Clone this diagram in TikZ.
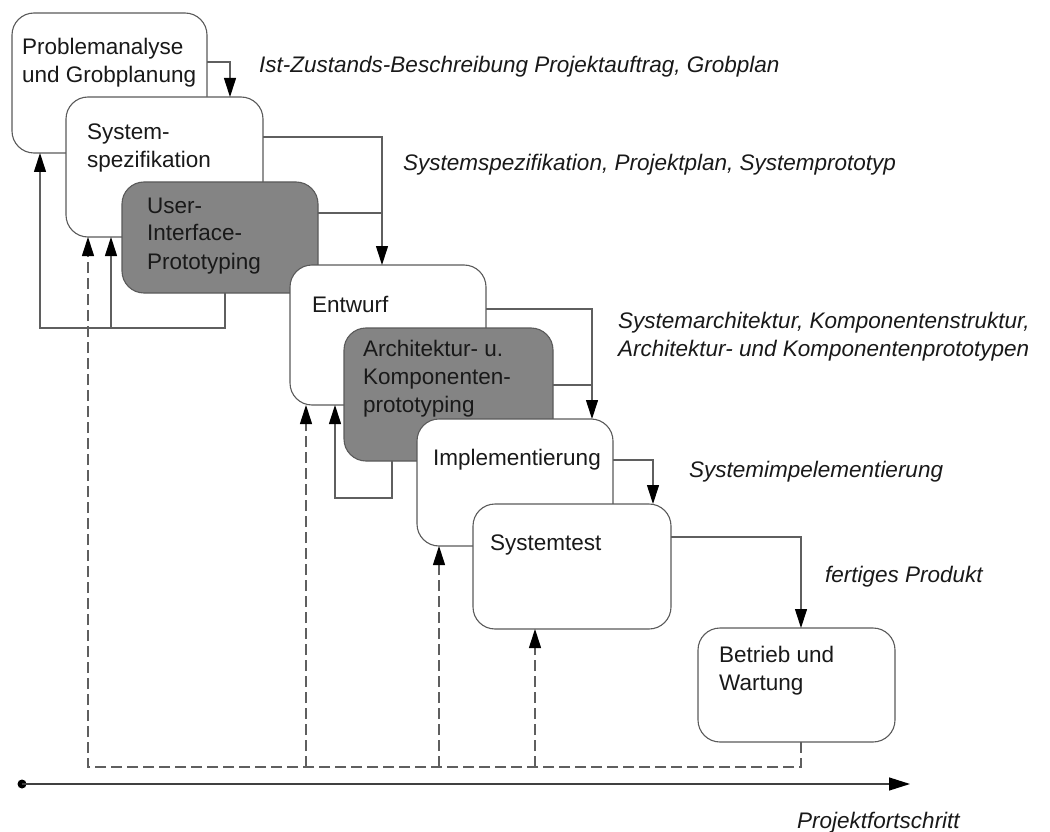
\documentclass[tikz,border=0pt]{standalone}
\usepackage{fontspec}
\setmainfont{Liberation Sans}
\usetikzlibrary{arrows.meta}
\definecolor{boxline}{RGB}{90,90,90}
\definecolor{protofill}{RGB}{132,132,132}
\definecolor{lnk}{RGB}{95,95,95}
\definecolor{txtc}{RGB}{25,25,25}
\begin{document}
\begin{tikzpicture}[x=1pt,y=-1pt,
  phase/.style={draw=boxline, line width=1.1pt, fill=white, rounded corners=22pt,
    inner sep=0pt, outer sep=0pt, anchor=north west},
  proto/.style={phase, fill=protofill},
  txt/.style={anchor=base west, inner sep=0pt, text=txtc,
    font=\fontsize{22.5}{28}\selectfont},
  lbl/.style={anchor=base west, inner sep=0pt, text=txtc,
    font=\fontsize{22.5}{28}\selectfont\itshape},
  link/.style={draw=lnk, line width=1.1pt},
  arr/.style={link, -{Triangle[length=19pt,width=12pt,color=black]}},
  back/.style={arr, dash pattern=on 11pt off 5pt},
]
\useasboundingbox (0,0) rectangle (1050,832);

% phases
\node[phase, minimum width=195pt, minimum height=140pt] (b1) at (12,13) {};
\node[txt] (t1) at (22,55) {\begin{tabular}[t]{@{}l@{}}Problemanalyse\\und Grobplanung\end{tabular}};
\node[phase, minimum width=197pt, minimum height=140pt] (b2) at (66,97) {};
\node[txt] (t2) at (87,140) {\begin{tabular}[t]{@{}l@{}}System-\\spezifikation\end{tabular}};
\node[proto, minimum width=196pt, minimum height=111pt] (b3) at (122,182) {};
\node[txt] (t3) at (147,213) {\begin{tabular}[t]{@{}l@{}}User-\\Interface-\\Prototyping\end{tabular}};
\node[phase, minimum width=196pt, minimum height=140pt] (b4) at (290,265) {};
\node[txt] (t4) at (312,312) {Entwurf};
\node[proto, minimum width=209pt, minimum height=133pt] (b5) at (344,328) {};
\node[txt] (t5) at (363,356) {\begin{tabular}[t]{@{}l@{}}Architektur- u.\\Komponenten-\\prototyping\end{tabular}};
\node[phase, minimum width=196pt, minimum height=127pt] (b6) at (417,419) {};
\node[txt] (t6) at (433,465) {Implementierung};
\node[phase, minimum width=198pt, minimum height=125pt] (b7) at (473,504) {};
\node[txt] (t7) at (490,550) {Systemtest};
\node[phase, minimum width=197pt, minimum height=114pt] (b8) at (698,628) {};
\node[txt] (t8) at (719,662) {\begin{tabular}[t]{@{}l@{}}Betrieb und\\Wartung\end{tabular}};

% result labels
\node[lbl] (l1) at (259,73) {Ist-Zustands-Beschreibung Projektauftrag, Grobplan};
\node[lbl] (l2) at (403,171) {Systemspezifikation, Projektplan, Systemprototyp};
\node[lbl] (l3) at (618,328) {\begin{tabular}[t]{@{}l@{}}Systemarchitektur, Komponentenstruktur,\\Architektur- und Komponentenprototypen\end{tabular}};
\node[lbl] (l4) at (689,477) {Systemimpelementierung};
\node[lbl] (l5) at (825,582) {fertiges Produkt};
\node[lbl] (l6) at (797,828) {Projektfortschritt};

% forward connectors
\coordinate (j1) at (382,137);
\coordinate (j2) at (592,309);
\draw[arr] ([yshift=-49pt]b1.north east) -| ([xshift=-33pt]b2.north east);
\draw[arr] ([yshift=-40pt]b2.north east) -| ([xshift=92pt]b4.north west);
\draw[link] ([yshift=-31pt]b3.north east) -- ([yshift=-31pt]b3.north east -| j1);
\draw[arr] ([yshift=-44pt]b4.north east) -| ([xshift=175pt]b6.north west);
\draw[link] ([yshift=-57pt]b5.north east) -- ([yshift=-57pt]b5.north east -| j2);
\draw[arr] ([yshift=-41pt]b6.north east) -| ([xshift=-18pt]b7.north east);
\draw[arr] ([yshift=-33pt]b7.north east) -| ([xshift=103pt]b8.north west);

% feedback from prototyping
\coordinate (f1) at (40,328);
\coordinate (f2) at (335,498);
\draw[arr] ([xshift=103pt]b3.south west) |- (f1) -- ([xshift=28pt]b1.south west);
\draw[arr] ([xshift=45pt]b2.south west |- f1) -- ([xshift=45pt]b2.south west);
\draw[arr] ([xshift=48pt]b5.south west) |- (f2) -- ([xshift=45pt]b4.south west);

% dashed feedback
\coordinate (d0) at (88,767);
\draw[back] ([xshift=103pt]b8.south west) |- (d0) -- ([xshift=22pt]b2.south west);
\draw[back] ([xshift=16pt]b4.south west |- d0) -- ([xshift=16pt]b4.south west);
\draw[back] ([xshift=22pt]b6.south west |- d0) -- ([xshift=22pt]b6.south west);
\draw[back] ([xshift=62pt]b7.south west |- d0) -- ([xshift=62pt]b7.south west);

% time axis
\node[circle, fill=black, inner sep=0pt, minimum size=9pt] (start) at (22,784) {};
\coordinate (axend) at (910,784);
\draw[line width=1.3pt, draw=black!75, -{Triangle[length=21pt,width=13pt,color=black]}] (start.center) -- (axend);
\end{tikzpicture}
\end{document}
